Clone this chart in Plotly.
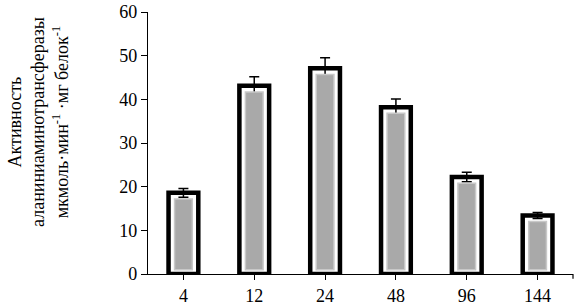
import plotly.graph_objects as go

categories = ["4", "12", "24", "48", "96", "144"]
values = [18.6, 43.1, 47.1, 38.2, 22.2, 13.4]
errors = [1.0, 2.1, 2.4, 1.9, 1.1, 0.7]
y_ticks = [0, 10, 20, 30, 40, 50, 60]

inner_base = 1.0
inner_gap = 1.4
inner_heights = [v - inner_base - inner_gap for v in values]

font = "Liberation Serif"

fig = go.Figure()
fig.add_trace(go.Bar(
    x=categories, y=values, width=0.42,
    marker=dict(color="white", line=dict(color="black", width=4.5)),
    error_y=dict(type="data", array=errors, visible=True, color="black", thickness=1.5, width=5),
    hoverinfo="skip",
))
fig.add_trace(go.Bar(
    x=categories, y=inner_heights, base=[inner_base] * len(values), width=0.25,
    marker=dict(color="#a9a9a9", line=dict(color="#c8c8c8", width=1.5)),
    hoverinfo="skip",
))

fig.update_layout(
    width=575, height=308,
    margin=dict(l=148, r=2, t=10, b=33),
    barmode="overlay",
    showlegend=False,
    plot_bgcolor="white", paper_bgcolor="white",
    font=dict(family=font, size=18, color="black"),
    xaxis=dict(
        type="category", showline=True, linecolor="black", linewidth=1.2,
        ticks="outside", ticklen=5, tickcolor="black", tickwidth=1.2,
        tickfont=dict(family=font, size=18), showgrid=False, zeroline=False,
    ),
    yaxis=dict(
        range=[0, 60], tickvals=y_ticks, showline=True, linecolor="black", linewidth=1.2,
        ticks="outside", ticklen=6, tickcolor="black", tickwidth=1.2,
        tickfont=dict(family=font, size=18), showgrid=False, zeroline=False,
        ticklabeloverflow="allow", ticksuffix="\u00a0\u00a0",
    ),
)

fig.add_shape(type="line", xref="paper", yref="paper", x0=1, x1=1, y0=0, y1=-0.018,
              line=dict(color="black", width=1.2))

fig.add_annotation(
    xref="paper", yref="paper", x=-0.259, y=0.58, xanchor="center", yanchor="middle",
    textangle=-90, showarrow=False,
    text="Активность<br>аланиниаминотрансферазы<br>мкмоль·мин<sup>-1</sup> ·мг белок<sup>-1</sup>",
    font=dict(family=font, size=18, color="black"),
)

fig.write_html("out.html", config={"displayModeBar": False},
               post_script="document.body.style.margin='0';")
